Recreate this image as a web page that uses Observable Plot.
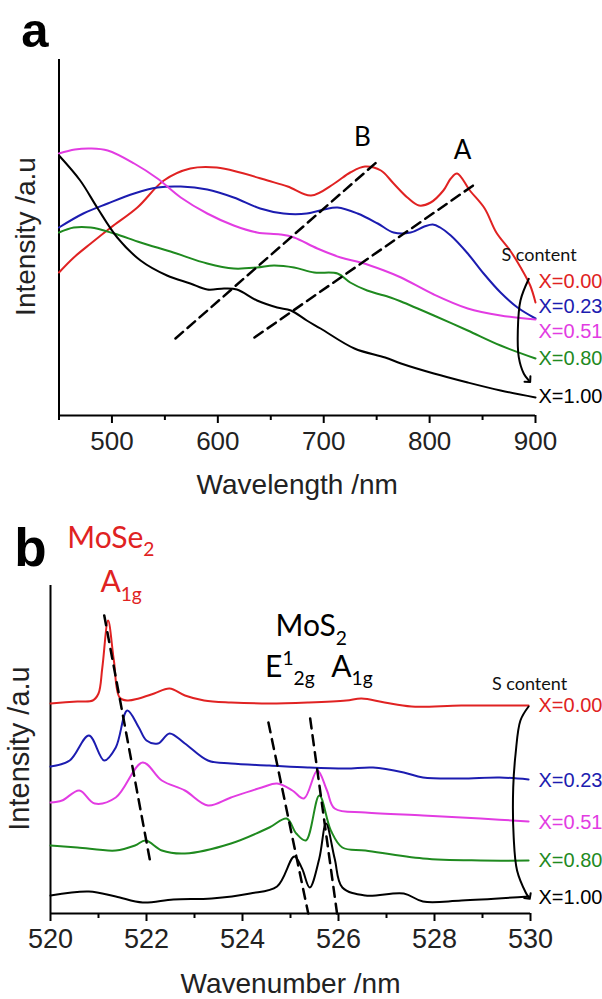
<!DOCTYPE html>
<html><head><meta charset="utf-8">
<script src="https://cdn.jsdelivr.net/npm/d3@7"></script>
<script src="https://cdn.jsdelivr.net/npm/@observablehq/plot@0.6"></script>
<style>
html,body{margin:0;padding:0;background:#fff;}
#wrap{width:602px;}
#wrap svg{display:block;}
</style></head><body><div id="wrap"></div>
<script>
// ---------- colours ----------
const colRed = "#e02222", colBlue = "#1c1cb0", colMag = "#e23ce2", colGreen = "#1f8a1f", colBlack = "#000000";

// ---------- panel a : absorption spectra (wavelength nm, intensity a.u.) ----------
const red_a = [[450,143],[464,158],[480,172],[499,188],[524,208],[549,235],[574,247],[599,248],[621,243],[647,235],[666,229],[688,220],[710,232],[725,243],[739,249],[754,245],[766,232],[779,218],[790,210],[801,213],[813,225],[820,237],[826,242],[838,225],[852,207],[863,183],[876,165],[886,148],[895,130],[900,113]];
const blue_a = [[450,188],[473,202],[496,212],[521,222],[543,228],[565,229],[590,226],[615,218],[640,207],[662,202],[684,202],[700,206],[713,208],[732,202],[751,192],[766,183],[782,183],[795,189],[803,191],[810,188],[820,180],[836,162],[851,142],[867,123],[883,108],[900,97]];
const mag_a = [[450,262],[465,266],[480,267],[496,265],[521,252],[543,237],[565,218],[590,202],[615,190],[637,183],[659,181],[672,178],[694,167],[716,158],[735,153],[757,145],[773,138],[804,121],[836,107],[867,100],[900,96]];
const green_a = [[450,183],[464,188],[480,188],[502,182],[527,173],[558,163],[590,152],[615,147],[637,148],[653,150],[672,148],[691,143],[713,142],[725,133],[741,125],[763,118],[773,114],[804,100],[836,85],[867,70],[900,57]];
const black_a = [[450,260],[470,235],[486,208],[505,178],[527,155],[552,140],[574,132],[590,126],[606,127],[618,126],[637,115],[656,108],[669,105],[684,95],[697,87],[729,67],[758,58],[773,52],[804,42],[836,33],[867,25],[900,18]];
const dashB_a = [[560,77],[751.8,255]];
const dashA_a = [[634.6,78],[845.2,233]];
const arrow_a = [[893.7,136.7],[885.8,115],[883.3,85],[884.2,58.3],[889,41.7],[893.7,35]];
const ticksMajorA = [500,600,700,800,900];
const ticksMinorA = [450,550,650,750,850];
const seriesLabelsA = [
  {t:"X=0.00", y:134, c:colRed},
  {t:"X=0.23", y:109, c:colBlue},
  {t:"X=0.51", y:84,  c:colMag},
  {t:"X=0.80", y:57,  c:colGreen},
  {t:"X=1.00", y:19,  c:colBlack}
];

// ---------- panel b : Raman spectra (wavenumber, intensity a.u.) ----------
const red_b = [[520,210],[520.56,212],[520.88,213],[521.0,220],[521.08,246],[521.2,293],[521.32,253],[521.44,216],[521.6,213],[521.84,215],[522.16,220],[522.48,225],[522.8,218],[523.2,213],[523.76,211],[524.56,210],[525.36,211],[526.16,213],[526.48,215],[526.96,211],[527.52,207],[528.56,208],[529.96,208]];
const blue_b = [[520,147],[520.4,153],[520.8,178],[521.12,153],[521.36,166],[521.6,203],[521.84,186],[522,173],[522.24,170],[522.48,180],[522.8,170],[523.28,153],[523.76,150],[524.56,148],[525.36,146],[526.16,145],[526.72,146],[527.36,141],[527.76,136],[528.56,135],[529.36,136],[529.96,134]];
const mag_b = [[520,111],[520.24,113],[520.6,123],[520.92,110],[521.36,116],[521.92,151],[522.32,133],[522.8,123],[523.28,108],[523.76,116],[524.4,126],[524.72,130],[525.04,123],[525.28,115],[525.56,143],[525.76,123],[525.92,105],[526.56,101],[527.76,98],[528.96,95],[529.96,92]];
const green_b = [[520,68],[520.56,66],[521.36,63],[521.76,68],[521.98,73],[522.32,63],[522.8,60],[523.76,70],[524.56,86],[524.92,95],[525.12,80],[525.32,73],[525.6,118],[525.84,83],[526.08,66],[526.56,63],[527.76,55],[528.96,53],[529.96,53]];
const black_b = [[520,18],[520.8,22],[521.36,17],[521.92,11],[522.56,14],[523.36,15],[524.16,20],[524.72,27],[525.08,57],[525.24,45],[525.4,26],[525.6,55],[525.74,90],[525.92,55],[526.08,26],[526.56,18],[527.36,20],[527.76,12],[528.56,13],[529.96,17]];
const dashSe_b = [[521.12,298],[522.08,51]];
const dashE_b = [[524.54,191],[525.37,0]];
const dashA_b = [[525.41,195],[525.97,0]];
const arrow_b = [[529.96,207],[529.79,193],[529.69,160],[529.64,126],[529.65,76],[529.72,43],[529.9,21],[529.96,16.3]];
const ticksMajorB = [520,522,524,526,528,530];
const ticksMinorB = [521,523,525,527,529];
const seriesLabelsB = [
  {t:"X=0.00", y:208, c:colRed},
  {t:"X=0.23", y:133, c:colBlue},
  {t:"X=0.51", y:91,  c:colMag},
  {t:"X=0.80", y:53,  c:colGreen},
  {t:"X=1.00", y:16,  c:colBlack}
];
const peakLabelsB = [
  {t:"MoSe_{2}", x:520.35, y:365.7, c:colRed},
  {t:"A_{1g}", x:521.04, y:321.3, c:colRed},
  {t:"MoS_{2}", x:524.69, y:277.3, c:colBlack},
  {t:"E^{1}_{2g}", x:524.47, y:237, c:colBlack},
  {t:"A_{1g}", x:525.85, y:237, c:colBlack}
];

const sansArial = "'Liberation Sans', Arial, sans-serif";
const sansSoft = "Lato, 'Open Sans', sans-serif";
const XY = {x: d => d[0], y: d => d[1]};

function spectrum(data, color) {
  return Plot.line(data, {...XY, stroke: color, strokeWidth: 2, curve: "catmull-rom"});
}

// ---------- plot a ----------
const plotA = Plot.plot({
  width: 602, height: 500,
  marginLeft: 58.5, marginRight: 67, marginTop: 59, marginBottom: 85,
  x: {domain: [450, 900]},
  y: {domain: [0, 356], axis: null},
  style: {fontFamily: sansArial, background: "white", overflow: "visible"},
  marks: [
    Plot.axisX({ticks: ticksMajorA, tickSize: 8, tickPadding: 8, fontSize: 26, stroke: "black", strokeWidth: 2, fill: "#222", label: null, tickFormat: d => String(d)}),
    Plot.axisX({ticks: ticksMinorA, tickSize: 5, stroke: "black", strokeWidth: 2, label: null, tickFormat: () => ""}),
    Plot.ruleY([0], {strokeWidth: 2}),
    Plot.ruleX([450], {strokeWidth: 2}),
    spectrum(red_a, colRed),
    spectrum(blue_a, colBlue),
    spectrum(mag_a, colMag),
    spectrum(green_a, colGreen),
    spectrum(black_a, colBlack),
    Plot.line(dashB_a, {...XY, stroke: "black", strokeWidth: 2.5, strokeDasharray: "10,6"}),
    Plot.line(dashA_a, {...XY, stroke: "black", strokeWidth: 2.5, strokeDasharray: "10,6"}),
    Plot.line(arrow_a, {...XY, stroke: "black", strokeWidth: 2, curve: "catmull-rom", markerEnd: "arrow"}),
    Plot.text(seriesLabelsA, {x: 900, y: "y", text: "t", fill: "c", dx: 3, textAnchor: "start", lineAnchor: "middle", fontSize: 20}),
    Plot.text(["S content"], {x: 903.3, y: 160, text: d => d, fontSize: 18, fontFamily: sansSoft, fill: "#111", textAnchor: "middle", lineAnchor: "middle"}),
    Plot.text(["B"], {x: 736.6, y: 270, text: d => d, fontSize: 26, fontFamily: sansSoft, textAnchor: "middle", lineAnchor: "bottom"}),
    Plot.text(["A"], {x: 831, y: 257, text: d => d, fontSize: 26, fontFamily: sansSoft, textAnchor: "middle", lineAnchor: "bottom"}),
    Plot.text(["a"], {x: 427.3, y: 369, text: d => d, fontSize: 49, fontWeight: "bold", textAnchor: "middle", lineAnchor: "bottom"}),
    Plot.text(["Intensity /a.u"], {x: 418.4, y: 179, text: d => d, fontSize: 28, rotate: -90, fill: "#222", textAnchor: "middle", lineAnchor: "middle"}),
    Plot.text(["Wavelength /nm"], {x: 675, y: -78, text: d => d, fontSize: 28, fill: "#222", textAnchor: "middle", lineAnchor: "bottom"})
  ]
});

// ---------- plot b ----------
const plotB = Plot.plot({
  width: 602, height: 499,
  marginLeft: 50, marginRight: 72, marginTop: 85, marginBottom: 86,
  x: {domain: [520, 530]},
  y: {domain: [0, 328], axis: null},
  style: {fontFamily: sansArial, background: "white", overflow: "visible"},
  marks: [
    Plot.axisX({ticks: ticksMajorB, tickSize: 8, tickPadding: 7, fontSize: 27, stroke: "black", strokeWidth: 2, fill: "#222", label: null, tickFormat: d => String(d)}),
    Plot.axisX({ticks: ticksMinorB, tickSize: 5, stroke: "black", strokeWidth: 2, label: null, tickFormat: () => ""}),
    Plot.ruleY([0], {strokeWidth: 2}),
    Plot.ruleX([520], {strokeWidth: 2}),
    spectrum(red_b, colRed),
    spectrum(blue_b, colBlue),
    spectrum(mag_b, colMag),
    spectrum(green_b, colGreen),
    spectrum(black_b, colBlack),
    Plot.line(dashSe_b, {...XY, stroke: "black", strokeWidth: 2.5, strokeDasharray: "10,7"}),
    Plot.line(dashE_b, {...XY, stroke: "black", strokeWidth: 2.5, strokeDasharray: "10,7"}),
    Plot.line(dashA_b, {...XY, stroke: "black", strokeWidth: 2.5, strokeDasharray: "10,7"}),
    Plot.line(arrow_b, {...XY, stroke: "black", strokeWidth: 2, curve: "catmull-rom", markerEnd: "arrow"}),
    Plot.text(seriesLabelsB, {x: 530, y: "y", text: "t", fill: "c", dx: 8, textAnchor: "start", lineAnchor: "middle", fontSize: 20}),
    Plot.text(["S content"], {x: 529.98, y: 229.7, text: d => d, fontSize: 18, fontFamily: sansSoft, fill: "#111", textAnchor: "middle", lineAnchor: "middle"}),
    Plot.text(peakLabelsB, {x: "x", y: "y", text: "t", fill: "c", fontSize: 30, fontFamily: sansSoft, textAnchor: "start", lineAnchor: "bottom"}),
    Plot.text(["b"], {x: 519.58, y: 348, text: d => d, fontSize: 53, fontWeight: "bold", textAnchor: "middle", lineAnchor: "bottom"}),
    Plot.text(["Intensity /a.u"], {x: 519.35, y: 165, text: d => d, fontSize: 29, rotate: -90, fill: "#222", textAnchor: "middle", lineAnchor: "middle"}),
    Plot.text(["Wavenumber /nm"], {x: 525, y: -79, text: d => d, fontSize: 28, fill: "#222", textAnchor: "middle", lineAnchor: "bottom"})
  ]
});

const wrap = document.getElementById("wrap");
wrap.appendChild(plotA);
wrap.appendChild(plotB);

// sub/superscript markup ( _{..} and ^{..} ) turned into tspans
function richify(svg) {
  svg.querySelectorAll("text").forEach(el => {
    const s = el.textContent;
    if (!/[_^]\{/.test(s)) return;
    const fs = parseFloat(getComputedStyle(el).fontSize) || 30;
    el.textContent = "";
    const re = /([_^])\{([^}]*)\}|([^_^]+)/g;
    let m, cur = 0;
    while ((m = re.exec(s))) {
      const ts = document.createElementNS("http://www.w3.org/2000/svg", "tspan");
      let target = 0;
      if (m[1]) {
        target = m[1] === "_" ? 0.28 * fs : -0.40 * fs;
        ts.setAttribute("font-size", (0.64 * fs) + "px");
        ts.textContent = m[2];
      } else {
        ts.textContent = m[3];
      }
      if (target !== cur) ts.setAttribute("dy", (target - cur) + "px");
      cur = target;
      el.appendChild(ts);
    }
  });
}
richify(plotB);
</script>
</body></html>
